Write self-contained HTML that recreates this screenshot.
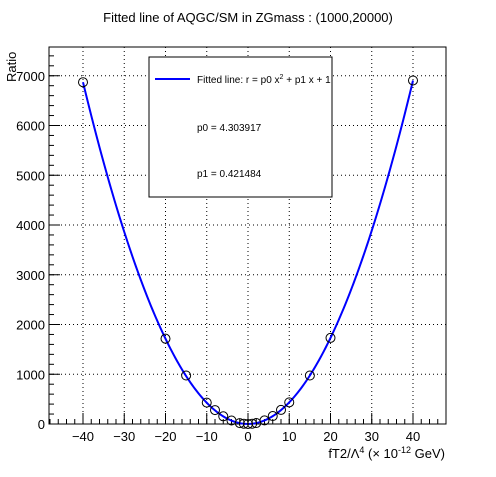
<!DOCTYPE html>
<html><head><meta charset="utf-8"><style>
body{margin:0;background:#fff;font-family:"Liberation Sans",sans-serif}
svg text{font-family:"Liberation Sans",sans-serif}
</style></head><body>
<svg width="496" height="472" viewBox="0 0 496 472">
<rect width="496" height="472" fill="#fff"/>
<text x="248" y="22" text-anchor="middle" font-size="13">Fitted line of AQGC/SM in ZGmass : (1000,20000)</text>
<g id="grid"></g>
<g id="axes"></g>
<g id="curve"></g>
<g id="pts"></g>
<rect x="149" y="57" width="183" height="140" fill="#fff" stroke="#000" stroke-width="1"/>
<line x1="155" y1="79" x2="190" y2="79" stroke="#0000ff" stroke-width="2"/>
<text x="197" y="83" font-size="10">Fitted line: r =  p0 x<tspan font-size="7" dy="-4">2</tspan><tspan dy="4"> + p1 x + 1</tspan></text>
<text x="197" y="131" font-size="10">p0 = 4.303917</text>
<text x="197" y="177" font-size="10">p1 = 0.421484</text>
<text x="445" y="458" text-anchor="end" font-size="13">fT2/Λ<tspan font-size="9" dy="-5">4</tspan><tspan dy="5"> (× 10</tspan><tspan font-size="9" dy="-5">-12</tspan><tspan dy="5"> GeV)</tspan></text>
<text transform="translate(16,82) rotate(-90)" font-size="13">Ratio</text>
</svg>
<script>
const xTicks=[-40,-30,-20,-10,0,10,20,30,40];
const yTicks=[0,1000,2000,3000,4000,5000,6000,7000];
const xs=[-40,-20,-15,-10,-8,-6,-4,-2,-1,0,1,2,4,6,8,10,15,20,40];
const ys=[6870,1715,975,430,280,155,70,18,6,1,5,19,72,160,283,435,975,1730,6905];
const p0=4.303917, p1=0.421484;
const L=49,R=446,T=47,B=424;
const X=v=>248+v*4.125;
const Y=v=>B-v*0.04975;
const NS="http://www.w3.org/2000/svg";
function mk(parent,tag,attrs){const e=document.createElementNS(NS,tag);for(const k in attrs)e.setAttribute(k,attrs[k]);document.getElementById(parent).appendChild(e);return e;}
xTicks.forEach(t=>{
 const g=mk('grid','line',{x1:X(t),x2:X(t),y1:T,y2:B,stroke:'#000','stroke-dasharray':'1,3','stroke-width':1});
 
 
 const l=mk('axes','text',{x:X(t),y:B+17,'text-anchor':'middle','font-size':13});
 l.textContent=t<0?'\u2212'+(-t):t;
 
 
 mk('axes','line',{x1:X(t),x2:X(t),y1:B,y2:B-11,stroke:'#000'});
});
for(let v=-48;v<=48;v+=2){if(X(v)>L&&X(v)<R)mk('axes','line',{x1:X(v),x2:X(v),y1:B,y2:B-5,stroke:'#000'});}
yTicks.forEach(t=>{
 const g=mk('grid','line',{x1:L,x2:R,y1:Y(t),y2:Y(t),stroke:'#000','stroke-dasharray':'1,3','stroke-width':1});
 
 
 const l=mk('axes','text',{x:L-4,y:Y(t)+5,'text-anchor':'end','font-size':13});
 l.textContent=t;
 
 
 mk('axes','line',{x1:L,x2:L+11,y1:Y(t),y2:Y(t),stroke:'#000'});
});
for(let v=0;v<=7500;v+=200){if(Y(v)>T)mk('axes','line',{x1:L,x2:L+5,y1:Y(v),y2:Y(v),stroke:'#000'});}
const fr=mk('axes','rect',{x:L,y:T,width:R-L,height:B-T,fill:'none',stroke:'#000'});


let d='';
for(let i=0;i<=200;i++){const x=-40+i*0.4;d+=(i?'L':'M')+X(x).toFixed(2)+','+Y(p0*x*x+p1*x+1).toFixed(2);}
const c=mk('curve','path',{d:d,fill:'none',stroke:'#0000ff','stroke-width':2});


xs.forEach((x,i)=>{
 const p=mk('pts','circle',{cx:X(x),cy:Y(ys[i]),r:4.5,fill:'none',stroke:'#000','stroke-width':1});
 
 
});
</script>
</body></html>
